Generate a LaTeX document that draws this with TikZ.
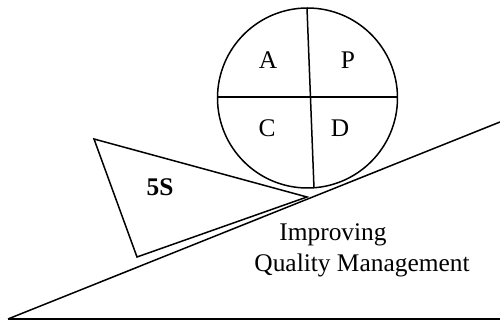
\documentclass[tikz,border=0pt]{standalone}
\usepackage{fontspec}
\setmainfont{Liberation Serif}
\begin{document}
\begin{tikzpicture}[x=0.5pt,y=-0.5pt,
  ln/.style={line width=0.75pt, line join=miter},
  lbl/.style={font=\fontsize{12.7pt}{14pt}\selectfont, inner sep=0pt}]
\useasboundingbox (0,0) rectangle (500,320);
% ground and incline
\coordinate (g0) at (8,319);
\coordinate (g1) at (500,319);
\coordinate (s1) at (500,122);
\draw[ln] (g0) -- (g1);
\draw[ln] (g0) -- (s1);
% 5S wedge
\coordinate (t1) at (94,139);
\coordinate (t2) at (137,257);
\coordinate (t3) at (307,197);
\draw[ln] (t1) -- (t2) -- (t3) -- cycle;
\node[lbl, font=\fontsize{12.7pt}{14pt}\selectfont\bfseries] (fives) at (160,187) {5S};
% PDCA wheel
\node[circle, draw, line width=0.75pt, minimum size=90pt, inner sep=0pt] (wheel) at (307.5,98) {};
\coordinate (vt) at (307,8);
\coordinate (vb) at (314,188);
\coordinate (hl) at (217,97);
\coordinate (hr) at (398,97);
\draw[ln] (vt) -- (vb);
\draw[ln] (hl) -- (hr);
\node[lbl] (a) at (268,60) {A};
\node[lbl] (p) at (348,60) {P};
\node[lbl] (c) at (267,128) {C};
\node[lbl] (d) at (340,128) {D};
% caption
\node[lbl] (imp) at (333,235) {Improving};
\node[lbl] (qm) at (362,265) {Quality Management};
\end{tikzpicture}
\end{document}
